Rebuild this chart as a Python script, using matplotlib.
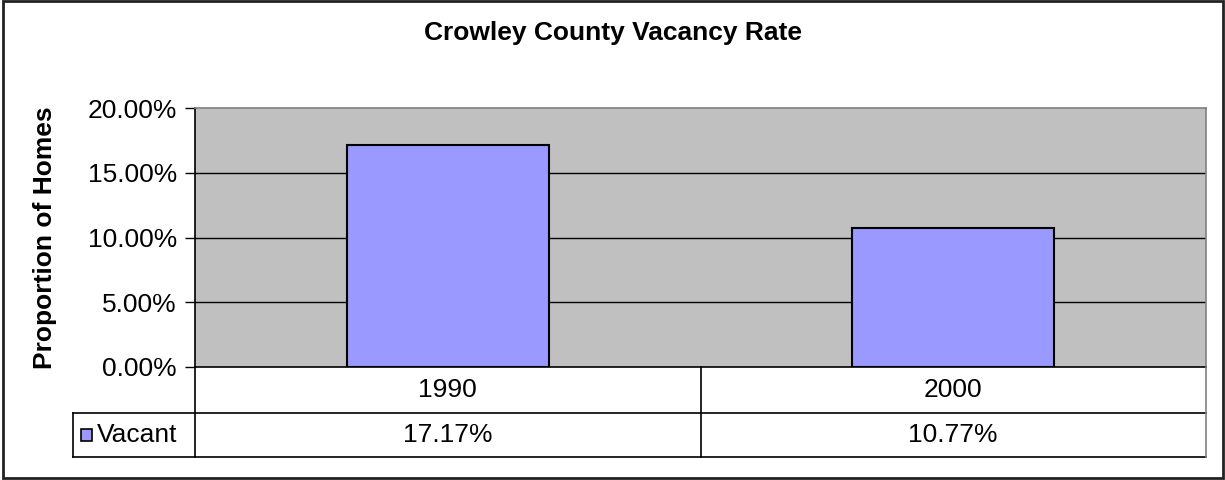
import matplotlib
matplotlib.use("Agg")
import matplotlib.pyplot as plt
from matplotlib.patches import Rectangle
from matplotlib.lines import Line2D

categories = ["1990", "2000"]
vacant = [17.17, 10.77]
series_name = "Vacant"
title = "Crowley County Vacancy Rate"
ylabel = "Proportion of Homes"
yticks = [0, 5, 10, 15, 20]

plt.rcParams['font.family'] = ['Liberation Sans', 'DejaVu Sans']
FS = 19

W, H = 1225, 480
fig = plt.figure(figsize=(W / 100, H / 100), dpi=100)

def fx(px):
    return px / W

def fy(py):
    return 1 - py / H

L, R, T, B = 195, 1206, 108, 367
ax = fig.add_axes([fx(L), fy(B), fx(R) - fx(L), fy(T) - fy(B)])
ax.set_facecolor("#C0C0C0")
x = list(range(len(categories)))
ax.bar(x, vacant, width=0.40, color="#9999FF", edgecolor="black", linewidth=1.5, zorder=3)
ax.set_xlim(-0.5, len(categories) - 0.5)
ax.set_ylim(0, 20)
ax.set_yticks(yticks)
ax.set_yticklabels([f"{v:.2f}%" for v in yticks], fontsize=FS)
for v in yticks[1:-1]:
    ax.axhline(v, color="black", linewidth=1, zorder=1)
ax.set_xticks([])
ax.tick_params(axis='y', direction='out', length=7, width=1, pad=6, colors='black')
ax.spines['left'].set_color('black')
ax.spines['bottom'].set_color('black')
ax.spines['top'].set_color('#808080')
ax.spines['right'].set_color('#808080')
for s in ax.spines.values():
    s.set_linewidth(1.2)

fig.text(fx(45), fy((T + B) / 2), ylabel, ha='center', va='center', rotation=90,
         fontsize=FS, fontweight='bold')
fig.text(0.5, fy(33), title, ha='center', va='center', fontsize=FS, fontweight='bold')

# data table
row1_b, row2_b = 413, 457
tl = 73
lines = [
    ((tl, R), (row1_b, row1_b), 'black'),
    ((tl, R), (row2_b, row2_b), 'black'),
    ((tl, tl), (row1_b, row2_b), 'black'),
    ((L, L), (B, row2_b), 'black'),
    ((R, R), (B, row2_b), '#808080'),
]
ncat = len(categories)
cw = (R - L) / ncat
for i in range(1, ncat):
    xx = L + i * cw
    lines.append(((xx, xx), (B, row2_b), 'black'))
for (xs, ys, c) in lines:
    fig.add_artist(Line2D([fx(v) for v in xs], [fy(v) for v in ys], color=c, linewidth=1.2))

for i, (cat, val) in enumerate(zip(categories, vacant)):
    cx = L + (i + 0.5) * cw
    fig.text(fx(cx), fy((B + row1_b) / 2), cat, ha='center', va='center', fontsize=FS)
    fig.text(fx(cx), fy((row1_b + row2_b) / 2), f"{val:.2f}%", ha='center', va='center', fontsize=FS)

# legend key in table
fig.add_artist(Rectangle((fx(81), fy(441)), fx(11), fy(429) - fy(441), facecolor="#9999FF",
                         edgecolor="black", linewidth=1.2))
fig.text(fx(97), fy((row1_b + row2_b) / 2), series_name, ha='left', va='center', fontsize=FS)

# outer frame
fig.add_artist(Rectangle((fx(3), fy(478)), fx(1223) - fx(3), fy(1) - fy(478), fill=False,
                         edgecolor="#222222", linewidth=2))

fig.savefig("out.png", dpi=100)
